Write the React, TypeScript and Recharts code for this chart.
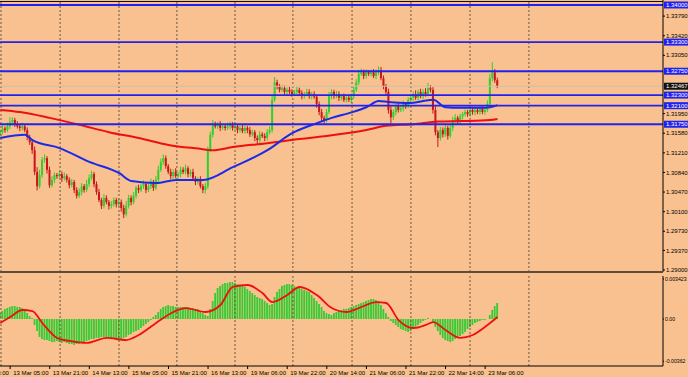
import React from "react";
import { ComposedChart, Bar, Line, XAxis, YAxis, ReferenceLine } from "recharts";

const BG = "#f9c18f";
const UP = "#2fd02f";
const DOWN = "#c9161b";
const LEVEL_BLUE = "#2222ee";
const FONT = "Liberation Sans, Arial, sans-serif";
const PIP = 0.0001;

// H1 closes, bar 0 = 12 Mar evening, bar 201 = 23 Mar 11:00
const firstOpen = 1.3155;
const closes = [
  1.3160, 1.3167, 1.3164, 1.3171, 1.3179, 1.3183, 1.3175, 1.3171, 1.3168, 1.3171,
  1.3164, 1.3151, 1.3141, 1.3126, 1.3085, 1.3058, 1.3079, 1.3108, 1.3111, 1.3089,
  1.3060, 1.3070, 1.3079, 1.3077, 1.3081, 1.3073, 1.3077, 1.3070, 1.3060, 1.3066,
  1.3051, 1.3040, 1.3047, 1.3058, 1.3051, 1.3062, 1.3073, 1.3081, 1.3062, 1.3047,
  1.3032, 1.3021, 1.3036, 1.3028, 1.3021, 1.3024, 1.3032, 1.3024, 1.3028, 1.3017,
  1.3005, 1.3021, 1.3036, 1.3028, 1.3040, 1.3055, 1.3051, 1.3058, 1.3062, 1.3051,
  1.3058, 1.3066, 1.3055, 1.3070, 1.3089, 1.3104, 1.3111, 1.3096, 1.3085, 1.3077,
  1.3085, 1.3077, 1.3081, 1.3089, 1.3085, 1.3092, 1.3081, 1.3085, 1.3073, 1.3066,
  1.3070, 1.3058, 1.3051, 1.3058, 1.3126, 1.3155, 1.3175, 1.3171, 1.3175, 1.3168,
  1.3171, 1.3168, 1.3171, 1.3175, 1.3168, 1.3171, 1.3164, 1.3168, 1.3162, 1.3168,
  1.3164, 1.3156, 1.3160, 1.3149, 1.3145, 1.3156, 1.3153, 1.3149, 1.3160, 1.3164,
  1.3221, 1.3254, 1.3247, 1.3240, 1.3243, 1.3236, 1.3240, 1.3236, 1.3232, 1.3236,
  1.3240, 1.3234, 1.3228, 1.3232, 1.3236, 1.3228, 1.3232, 1.3227, 1.3213, 1.3198,
  1.3187, 1.3183, 1.3198, 1.3228, 1.3236, 1.3228, 1.3232, 1.3225, 1.3228, 1.3221,
  1.3225, 1.3221, 1.3228, 1.3240, 1.3254, 1.3270, 1.3273, 1.3266, 1.3273, 1.3270,
  1.3273, 1.3266, 1.3273, 1.3277, 1.3262, 1.3247, 1.3236, 1.3202, 1.3188, 1.3198,
  1.3209, 1.3202, 1.3205, 1.3213, 1.3209, 1.3221, 1.3225, 1.3232, 1.3225, 1.3236,
  1.3228, 1.3236, 1.3232, 1.3243, 1.3240, 1.3202, 1.3160, 1.3149, 1.3164, 1.3156,
  1.3168, 1.3153, 1.3168, 1.3183, 1.3187, 1.3179, 1.3190, 1.3194, 1.3198, 1.3194,
  1.3202, 1.3198, 1.3202, 1.3198, 1.3205, 1.3198, 1.3202, 1.3213, 1.3262, 1.3273,
  1.3258, 1.3247,
];
// wick lengths in pips above the body / below the body
const wickUp = [
  5,6,4,7,9,5,4,6,5,7,4,5,4,6,7,9,10,5,7,4,
  6,7,5,4,6,5,7,4,5,6,4,5,7,6,4,8,7,6,4,5,
  6,4,7,5,4,6,5,4,7,5,6,9,6,5,7,4,6,5,7,4,
  5,6,4,7,8,6,7,5,4,6,5,7,4,6,5,7,4,5,6,4,
  5,7,4,6,7,6,8,5,4,6,5,4,7,5,4,6,5,4,6,5,
  4,6,5,4,5,6,4,5,6,7,10,10,5,4,6,5,4,6,5,4,
  6,4,5,4,6,5,4,5,4,5,6,4,6,8,5,4,6,5,4,5,
  4,6,5,7,6,8,7,5,6,4,5,6,5,7,6,5,4,6,7,5,
  4,6,5,7,4,5,6,5,7,4,6,5,7,10,6,5,7,4,6,5,
  6,4,5,6,7,4,5,4,5,4,5,4,4,5,4,4,5,7,8,19,
  6,5,
];
const wickDn = [
  6,4,5,4,5,6,5,4,6,5,4,6,5,7,6,8,4,5,6,7,
  5,4,6,5,4,7,4,5,6,4,6,5,4,6,5,4,5,4,6,5,
  4,6,5,4,7,5,4,6,5,7,7,4,5,6,4,5,6,4,5,6,
  4,5,6,4,5,4,6,5,4,6,5,4,5,6,4,5,6,5,4,6,
  5,4,6,7,5,4,5,4,5,6,4,5,4,6,5,4,6,5,4,5,
  6,5,4,6,7,5,4,6,5,4,5,4,6,5,4,5,6,4,5,4,
  5,4,6,5,4,5,6,4,7,6,7,7,5,4,6,5,4,6,5,4,
  5,4,6,5,4,5,4,6,5,4,5,4,6,5,4,6,5,7,11,5,
  6,5,4,6,5,4,5,6,4,5,4,6,5,4,5,7,6,17,5,6,
  5,7,4,6,5,4,5,6,4,5,4,5,6,4,5,4,5,4,5,6,
  5,4,
];

// moving averages read at a few bars
const blueMaBars = [0, 10, 13, 24, 36, 48, 53, 63, 71, 82, 94, 108, 118, 128, 134, 141, 148, 153, 157, 165, 175, 180, 186, 194, 198, 201];
const blueMaVals = [1.3149, 1.3155, 1.3145, 1.3130, 1.3104, 1.3083, 1.3068, 1.3064, 1.3070, 1.3070, 1.3094, 1.3126, 1.3158, 1.3177, 1.3187, 1.3196, 1.3207, 1.3219, 1.3217, 1.3215, 1.3221, 1.3207, 1.3206, 1.3206, 1.3207, 1.3211];
const redMaBars = [0, 8, 20, 32, 44, 56, 68, 80, 86, 94, 108, 121, 134, 148, 156, 167, 177, 187, 198, 201];
const redMaVals = [1.3202, 1.3198, 1.3187, 1.3174, 1.3160, 1.3149, 1.3136, 1.3129, 1.3126, 1.3132, 1.3139, 1.3147, 1.3154, 1.3164, 1.3172, 1.3175, 1.3180, 1.3181, 1.3183, 1.3185];

// oscillator in points (1e-5)
const osma = [
  51, 68, 86, 94, 103, 111, 111, 103, 103, 94, 86, 51, 26, 9, -51, -103, -154,
  -171, -180, -180, -188, -197, -197, -188, -197, -205, -197, -205,
  -214, -214, -222, -214, -214, -205, -197, -188, -180, -171, -171, -162, -162,
  -154, -154, -154, -162, -171, -171, -180, -180, -171,
  -162, -154, -137, -128, -111, -103, -94, -77, -60, -43, -26, -9,
  17, 34, 60, 86, 103, 111, 120, 111, 111, 103, 103, 103, 103, 103,
  103, 94, 94, 86, 86, 68, 51, 34, 26, 86, 154, 222,
  265, 282, 299, 308, 308, 316, 316, 308, 299, 291, 282, 274,
  256, 239, 222, 205, 188, 180, 171, 154, 137, 120, 128,
  188, 231, 256, 282, 291, 299, 299, 291, 282, 274, 265,
  256, 248, 239, 231, 205, 180, 154, 128, 103, 68, 51, 43, 34,
  51, 60, 68, 77, 86, 86, 94, 103, 111, 120, 128, 137, 145, 154,
  162, 171, 171, 162, 154, 120, 86, 51, 17, -17, -34, -51, -68,
  -86, -94, -103, -111, -103, -86, -68, -51, -34, -17, -9, 9, 0,
  -34, -68, -103, -137, -162, -180, -188, -197,
  -188, -171, -162, -145, -128, -111, -86, -68, -51, -34, -26,
  -17, -9, -9, 0, 34, 77, 111, 137,
];
const signalBars = [0, 4, 9, 13, 17, 23, 28, 35, 43, 51, 56, 63, 70, 75, 83, 89, 94, 100, 106, 110, 116, 121, 128, 134, 140, 145, 152, 156, 161, 167, 172, 175, 180, 186, 191, 197, 201];
const signalVals = [-34, 17, 77, 68, -34, -162, -188, -205, -162, -180, -137, -34, 60, 94, 60, 120, 274, 291, 222, 145, 205, 274, 205, 94, 60, 94, 145, 137, -9, -77, -51, -26, -94, -162, -137, -51, 17];

const levels = [1.34, 1.333, 1.3275, 1.323, 1.321, 1.3175];
const bid = 1.32467;
const priceTicks = [1.3379, 1.3342, 1.3305, 1.3195, 1.3158, 1.3121, 1.3084, 1.3047, 1.301, 1.2973, 1.2937, 1.29];
const gridBars = [0.3, 24.2, 48, 71.4, 94.9, 118.3, 142.2, 166, 189.9, 213.7];
const timeBars = [-12, 4, 20, 36, 52, 68, 84, 100, 116, 132, 148, 164, 180, 196];
const timeLabels = ["12 Mar 13:00", "13 Mar 05:00", "13 Mar 21:00", "14 Mar 13:00", "15 Mar 05:00", "15 Mar 21:00", "16 Mar 13:00", "19 Mar 06:00", "19 Mar 22:00", "20 Mar 14:00", "21 Mar 06:00", "21 Mar 22:00", "22 Mar 14:00", "23 Mar 06:00"];
const oscTicks = [342.3, 0, -362];
const oscTickLabels = ["0.003423", "0.00", "-0.00362"];

const X_DOMAIN = [-0.1, 267.9];

const mainData = closes.map((c, i) => {
  const o = i === 0 ? firstOpen : closes[i - 1];
  const h = Math.max(o, c) + wickUp[i] * PIP;
  const l = Math.min(o, c) - wickDn[i] * PIP;
  const row: any = { i, o, c, h, l, range: [l, h] };
  const b = blueMaBars.indexOf(i);
  if (b >= 0) row.blue = blueMaVals[b];
  const r = redMaBars.indexOf(i);
  if (r >= 0) row.red = redMaVals[r];
  return row;
});

const oscData = osma.map((v, i) => {
  const row: any = { i, osma: v };
  const s = signalBars.indexOf(i);
  if (s >= 0) row.sig = signalVals[s];
  return row;
});

function Candle(props: any) {
  const { x, y, width, height, payload } = props;
  if (!payload) return null;
  const { o, c, h, l } = payload;
  const span = h - l || 1e-9;
  const py = (p: number) => y + ((h - p) / span) * height;
  const cx = x + width / 2;
  const col = c >= o ? UP : DOWN;
  const top = py(Math.max(o, c));
  const bot = py(Math.min(o, c));
  return (
    <g>
      <line x1={cx} x2={cx} y1={y} y2={y + height} stroke={col} strokeWidth={1} />
      <rect x={cx - 1} y={top} width={2} height={Math.max(bot - top, 0.8)} fill={col} />
    </g>
  );
}

function Tag({ viewBox, text, fill }: any) {
  if (!viewBox) return null;
  const x = viewBox.x + viewBox.width + 1;
  const y = viewBox.y;
  return (
    <g>
      <rect x={x} y={y - 3.5} width={25} height={7} fill={fill} />
      <text x={x + 2} y={y + 2.2} fontSize={6} fontFamily={FONT} fill="#fff">{text}</text>
    </g>
  );
}

function TimeTick({ x, y, payload }: any) {
  const k = timeBars.indexOf(payload.value);
  return (
    <g>
      <line x1={x} x2={x} y1={y} y2={y + 3} stroke="#000" strokeWidth={1} />
      <text x={x + 3} y={y + 8.5} fontSize={6} fontFamily={FONT} fill="#000">{timeLabels[k]}</text>
    </g>
  );
}

const gridLine = (v: number) => (
  <ReferenceLine key={"g" + v} x={v} stroke="#6a5644" strokeWidth={1} strokeDasharray="2 2" />
);

export default function App() {
  return (
    <div style={{ position: "absolute", left: 0, top: 0, width: 688, height: 377, background: BG, overflow: "hidden" }}>
      <div style={{ position: "absolute", left: 0, top: 1, width: 663, height: 1, background: "#111" }} />
      <div style={{ position: "absolute", left: 0, top: 0 }}>
        <ComposedChart width={688} height={278} data={mainData} margin={{ top: 0, right: 0, left: 0, bottom: 6 }}>
          <XAxis type="number" dataKey="i" domain={X_DOMAIN} allowDataOverflow hide />
          <YAxis
            orientation="right" width={25} domain={[1.28962, 1.34094]} allowDataOverflow
            ticks={priceTicks} interval={0} tickFormatter={(v: number) => v.toFixed(5)}
            tick={{ fontSize: 6, fill: "#000", fontFamily: FONT }}
            tickSize={2} tickMargin={1} axisLine={{ stroke: "#000" }} tickLine={{ stroke: "#000" }}
          />
          {gridBars.map(gridLine)}
          <ReferenceLine y={bid} stroke="#c9bfb4" strokeWidth={1} />
          <Bar dataKey="range" barSize={2} shape={<Candle />} isAnimationActive={false} />
          <Line dataKey="red" type="monotone" connectNulls stroke="#ee1010" strokeWidth={2} dot={false} activeDot={false} isAnimationActive={false} />
          <Line dataKey="blue" type="monotone" connectNulls stroke="#1a2ae8" strokeWidth={2} dot={false} activeDot={false} isAnimationActive={false} />
          {levels.map((v) => (
            <ReferenceLine key={v} y={v} stroke={LEVEL_BLUE} strokeWidth={1.8} label={<Tag text={v.toFixed(5)} fill={LEVEL_BLUE} />} />
          ))}
          <ReferenceLine y={bid} stroke="none" label={<Tag text={bid.toFixed(5)} fill="#111" />} />
        </ComposedChart>
      </div>
      <div style={{ position: "absolute", left: 0, top: 271, width: 663, height: 2, background: "#5e4c3e" }} />
      <div style={{ position: "absolute", left: 0, top: 273 }}>
        <ComposedChart width={688} height={104} data={oscData} margin={{ top: 3, right: 0, left: 0, bottom: 0 }}>
          <XAxis
            type="number" dataKey="i" domain={X_DOMAIN} allowDataOverflow
            ticks={timeBars} interval={0} height={11} tickLine={false} tickSize={0} tickMargin={0}
            axisLine={{ stroke: "#000" }} tick={<TimeTick />}
          />
          <YAxis
            orientation="right" width={25} domain={[-402, 368]} allowDataOverflow
            ticks={oscTicks} interval={0}
            tickFormatter={(v: number) => oscTickLabels[oscTicks.indexOf(v)]}
            tick={{ fontSize: 5.2, fill: "#000", fontFamily: FONT }}
            tickSize={1} tickMargin={1} axisLine={{ stroke: "#000" }} tickLine={{ stroke: "#000" }}
          />
          {gridBars.map(gridLine)}
          <Bar dataKey="osma" barSize={1.8} fill="#33cc33" isAnimationActive={false} />
          <Line dataKey="sig" type="monotone" connectNulls stroke="#ee1010" strokeWidth={1.8} dot={false} activeDot={false} isAnimationActive={false} />
        </ComposedChart>
      </div>
    </div>
  );
}
